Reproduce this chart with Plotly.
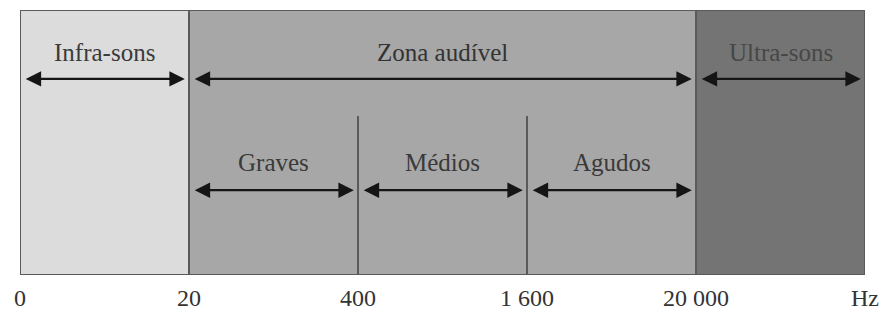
import plotly.graph_objects as go

# Data
boundary_labels = ["0", "20", "400", "1 600", "20 000", "Hz"]
zone_names = ["Infra-sons", "Zona audível", "Ultra-sons"]
zone_start = [0, 1, 4]
zone_end = [1, 4, 5]
zone_colors = ["#dcdcdc", "#a7a7a7", "#747474"]
zone_text_colors = ["#3a3a3a", "#333333", "#474747"]
sub_names = ["Graves", "Médios", "Agudos"]
sub_start = [1, 2, 3]
sub_end = [2, 3, 4]

FONT = "Liberation Serif, DejaVu Serif, serif"

fig = go.Figure()

fig.add_trace(go.Bar(
    x=[(s + e) / 2 for s, e in zip(zone_start, zone_end)],
    y=[1] * len(zone_names),
    width=[e - s for s, e in zip(zone_start, zone_end)],
    base=0,
    marker=dict(color=zone_colors, line=dict(color="#5a5a5a", width=2)),
    hoverinfo="skip",
    showlegend=False,
))

annotations = []
gap = 0.025
y_top_arrow = 0.74
y_top_text = 0.84
y_sub_arrow = 0.32
y_sub_text = 0.425

def arrow(x0, x1, y):
    return dict(x=x1 - gap, y=y, ax=x0 + gap, ay=y, xref="x", yref="y",
                axref="x", ayref="y", text="", showarrow=True,
                arrowhead=2, arrowside="end+start", arrowsize=1.4,
                arrowwidth=2.2, arrowcolor="#151515", standoff=0, startstandoff=0)

for name, s, e, tc in zip(zone_names, zone_start, zone_end, zone_text_colors):
    annotations.append(arrow(s, e, y_top_arrow))
    annotations.append(dict(x=(s + e) / 2, y=y_top_text, xref="x", yref="y",
                            text=name, showarrow=False,
                            font=dict(family=FONT, size=25, color=tc)))

for name, s, e in zip(sub_names, sub_start, sub_end):
    annotations.append(arrow(s, e, y_sub_arrow))
    annotations.append(dict(x=(s + e) / 2, y=y_sub_text, xref="x", yref="y",
                            text=name, showarrow=False,
                            font=dict(family=FONT, size=25, color="#3a3a3a")))

shapes = []
for b in sub_end[:-1]:
    shapes.append(dict(type="line", xref="x", yref="y", x0=b, x1=b, y0=0, y1=0.6,
                       line=dict(color="#5a5a5a", width=2)))

fig.update_layout(
    width=882, height=312,
    margin=dict(l=20, r=17, t=10, b=37, autoexpand=False),
    paper_bgcolor="white", plot_bgcolor="white",
    annotations=annotations, shapes=shapes,
    bargap=0,
    xaxis=dict(range=[0, 5], tickvals=list(range(len(boundary_labels))),
               ticktext=boundary_labels, showgrid=False, zeroline=False,
               ticks="", ticklabelstandoff=6, automargin=False,
               tickfont=dict(family=FONT, size=24, color="#333333"),
               showline=False, fixedrange=True),
    yaxis=dict(range=[0, 1], showticklabels=False, showgrid=False, automargin=False,
               zeroline=False, showline=False, fixedrange=True),
)

fig.write_html("out.html", config={"displayModeBar": False},
               post_script="document.body.style.margin='0';document.body.style.padding='0';document.body.style.overflow='hidden';")
